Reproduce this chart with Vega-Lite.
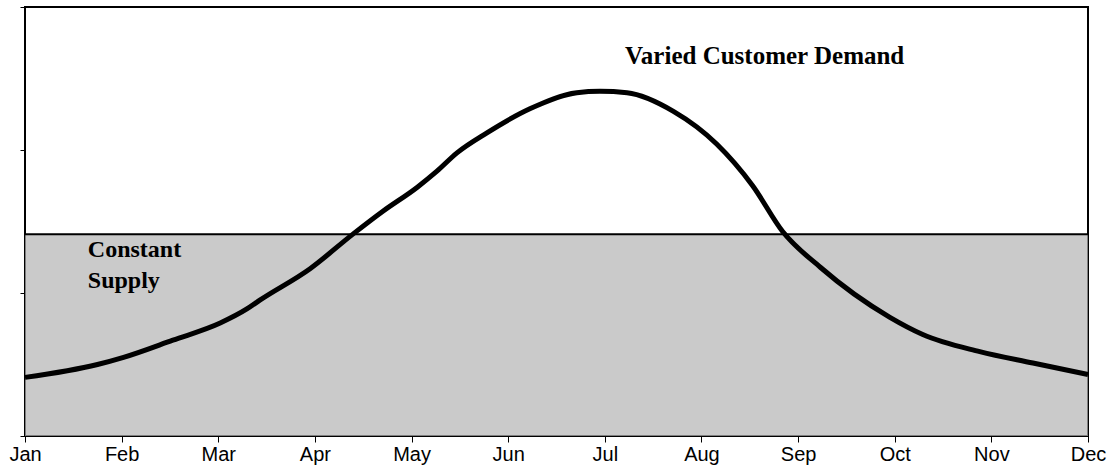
{
  "$schema": "https://vega.github.io/schema/vega-lite/v6.json",
  "width": 1063,
  "height": 429,
  "autosize": "none",
  "padding": {"left": 25, "top": 7, "right": 24, "bottom": 40},
  "background": "white",
  "config": {
    "view": {"stroke": "black", "strokeWidth": 2},
    "axis": {"grid": false, "domain": false, "tickColor": "black", "tickWidth": 1}
  },
  "datasets": {
    "demand": [
      {"month": 1.0, "demand": 0.41},
      {"month": 1.75, "demand": 0.5},
      {"month": 2.02, "demand": 0.55},
      {"month": 2.53, "demand": 0.67},
      {"month": 3.02, "demand": 0.79},
      {"month": 3.3, "demand": 0.89},
      {"month": 3.43, "demand": 0.95},
      {"month": 3.95, "demand": 1.17},
      {"month": 4.39, "demand": 1.41},
      {"month": 4.7, "demand": 1.57},
      {"month": 5.06, "demand": 1.74},
      {"month": 5.26, "demand": 1.85},
      {"month": 5.47, "demand": 1.98},
      {"month": 5.78, "demand": 2.12},
      {"month": 6.23, "demand": 2.29},
      {"month": 6.71, "demand": 2.4},
      {"month": 6.95, "demand": 2.41},
      {"month": 7.23, "demand": 2.4},
      {"month": 7.71, "demand": 2.27},
      {"month": 8.16, "demand": 2.04},
      {"month": 8.53, "demand": 1.75},
      {"month": 8.84, "demand": 1.43},
      {"month": 9.23, "demand": 1.18},
      {"month": 9.95, "demand": 0.83},
      {"month": 10.29, "demand": 0.71},
      {"month": 10.88, "demand": 0.59},
      {"month": 11.43, "demand": 0.51},
      {"month": 12.0, "demand": 0.43}
    ],
    "supply": [{"month": 1, "supply": 1.41}, {"month": 12, "supply": 1.41}]
  },
  "layer": [
    {
      "data": {"name": "supply"},
      "mark": {"type": "area", "fill": "#b4b4b4", "line": {"color": "black", "strokeWidth": 2}},
      "encoding": {
        "x": {"field": "month", "type": "quantitative", "scale": {"domain": [1, 12], "nice": false, "zero": false},
          "axis": {"values": [1,2,3,4,5,6,7,8,9,10,11,12], "title": null, "tickSize": 6, "labelPadding": 2,
            "labelFlush": false, "labelOverlap": false, "labelFont": "Liberation Sans", "labelFontSize": 20, "labelColor": "black",
            "labelExpr": "['Jan','Feb','Mar','Apr','May','Jun','Jul','Aug','Sep','Oct','Nov','Dec'][datum.value-1]"}},
        "y": {"field": "supply", "type": "quantitative", "scale": {"domain": [0, 3], "nice": false},
          "axis": {"values": [0, 1, 2, 3], "labels": false, "title": null, "tickSize": 5}}
      }
    },
    {
      "data": {"name": "demand"},
      "mark": {"type": "line", "color": "black", "strokeWidth": 5, "interpolate": "monotone"},
      "encoding": {
        "x": {"field": "month", "type": "quantitative"},
        "y": {"field": "demand", "type": "quantitative"}
      }
    },
    {
      "data": {"values": [{"label": "Varied Customer Demand"}]},
      "mark": {"type": "text", "font": "Liberation Serif", "fontWeight": "bold", "fontSize": 25, "align": "left", "baseline": "alphabetic", "color": "black"},
      "encoding": {
        "x": {"datum": 7.21},
        "y": {"datum": 2.6},
        "text": {"field": "label"}
      }
    },
    {
      "data": {"values": [{"label": "Constant"}]},
      "mark": {"type": "text", "font": "Liberation Serif", "fontWeight": "bold", "fontSize": 24, "align": "left", "baseline": "alphabetic", "color": "black"},
      "encoding": {
        "x": {"datum": 1.65},
        "y": {"datum": 1.252},
        "text": {"field": "label"}
      }
    },
    {
      "data": {"values": [{"label": "Supply"}]},
      "mark": {"type": "text", "font": "Liberation Serif", "fontWeight": "bold", "fontSize": 24, "align": "left", "baseline": "alphabetic", "color": "black"},
      "encoding": {
        "x": {"datum": 1.65},
        "y": {"datum": 1.035},
        "text": {"field": "label"}
      }
    }
  ]
}
